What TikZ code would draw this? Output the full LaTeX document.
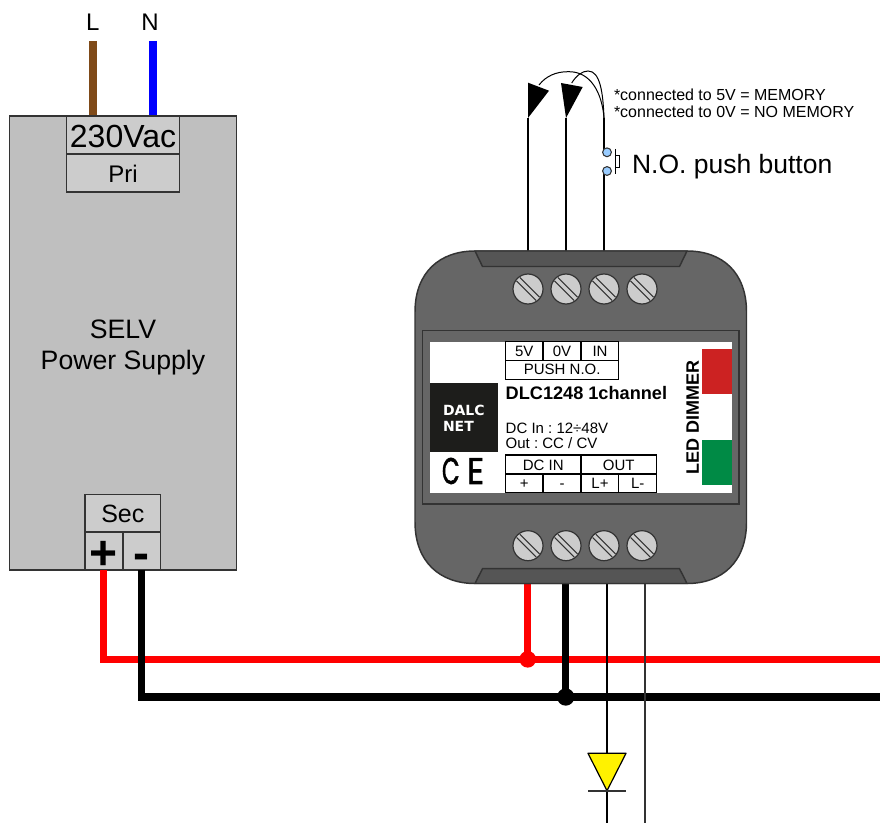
\documentclass[tikz,border=0pt]{standalone}
\usepackage{fontspec}
\setmainfont{Liberation Sans}
\newfontfamily\logofont{DejaVu Sans}
\newfontfamily\cefont[FakeBold=1.6]{Poppins}
\newcommand{\fs}[1]{\fontsize{\fpeval{#1*0.75}}{\fpeval{#1*0.9}}\selectfont}
\definecolor{strokeg}{HTML}{333333}
\definecolor{psug}{HTML}{BFBFBF}
\definecolor{termg}{HTML}{CCCCCC}
\definecolor{bodyg}{HTML}{666666}
\definecolor{tabg}{HTML}{555555}
\definecolor{brownw}{HTML}{7F4A18}
\definecolor{ledred}{HTML}{CC2222}
\definecolor{ledgreen}{HTML}{008A45}
\definecolor{logob}{HTML}{1D1D1B}
\definecolor{btnblue}{HTML}{99CCFF}
\tikzset{
  txt/.style={inner sep=0pt,outer sep=0pt,anchor=base,text=black},
  txtl/.style={inner sep=0pt,outer sep=0pt,anchor=base west,text=black},
  box/.style={draw=strokeg,line width=1.1pt},
  thinw/.style={draw=black,line width=1.4pt},
  thickw/.style={line width=5.4pt},
  cellb/.style={draw=black,line width=.9pt,fill=white},
  screwc/.style={circle,draw=strokeg,fill=termg,line width=.9pt,minimum size=22.5pt,inner sep=0pt},
}
\newcommand{\screw}[3]{%
  \node[screwc] (#1) at (#2,#3) {};
  \draw[strokeg,line width=.8pt] (#2-11.5,#3-8.2) -- (#2+8.2,#3+11.5);
  \draw[strokeg,line width=.8pt] (#2-8.2,#3-11.5) -- (#2+11.5,#3+8.2);
}
\frenchspacing
\begin{document}
\begin{tikzpicture}[x=.75pt,y=-.75pt]
\useasboundingbox (0,0) rectangle (880,823);
% PSU
\fill[white] (0,0) rectangle (880,823);
\coordinate (Lend) at (93,41);
\coordinate (Nend) at (153,41);
\coordinate (Lpri) at (93,116);
\coordinate (Npri) at (153,116);
\draw[brownw,line width=5.9pt] (Lend) -- (Lpri);
\draw[blue,line width=5.9pt] (Nend) -- (Npri);
\node[box,fill=psug,inner sep=0pt,minimum width=170.25pt,minimum height=340.5pt] (psu) at (123,343) {};
\node[box,fill=termg,inner sep=0pt,minimum width=85pt,minimum height=28.5pt] (vac) at (123,135) {};
\node[box,fill=termg,inner sep=0pt,minimum width=85pt,minimum height=28.5pt] (pri) at (123,173) {};
\node[box,fill=termg,inner sep=0pt,minimum width=56.75pt,minimum height=28.5pt] (sec) at (122.85,513.3) {};
\node[box,fill=termg,inner sep=0pt,minimum width=28.4pt,minimum height=28.5pt] (plus) at (103.85,551.2) {};
\node[box,fill=termg,inner sep=0pt,minimum width=28.4pt,minimum height=28.5pt] (minus) at (141.8,551.2) {};
\node[txt] (tL) at (92.7,31) {\fs{24}L};
\node[txt] (tN) at (150,31) {\fs{24}N};
\node[txt] (t230) at (123,147.3) {\fs{32}230Vac};
\node[txt] (tPri) at (123,182.7) {\fs{24}Pri};
\node[txt] (tSelv) at (123,338) {\fs{26.67}SELV};
\node[txt] (tPower) at (123,369) {\fs{26.67}Power Supply};
\node[txt] (tSec) at (122.85,522.5) {\fs{25}Sec};
\node[txt] (tPlus) at (103.85,569) {\fs{48}\bfseries +};
\node[txt] (tMinus) at (141.8,569) {\fs{48}\bfseries -};
% Top wires
\coordinate (w1t) at (528,118);
\coordinate (w2t) at (566,118);
\coordinate (w3t) at (604,118);
\coordinate (w1b) at (528,251);
\coordinate (w2b) at (566,251);
\coordinate (w3b) at (604,251);
\coordinate (b1) at (607,152.3);
\coordinate (b2) at (607,171);
\draw[thinw] (w1t) -- (w1b);
\draw[thinw] (w2t) -- (w2b);
\draw[thinw] (w3t) -- (604,152.3);
\draw[thinw] (604,171) -- (w3b);
\draw[black,line width=.75pt] (w3t) .. controls (602,92) and (590,71) .. (568,71.7) .. controls (556,71.7) and (546,76) .. (539,85);
\draw[black,line width=.75pt] (w3t) .. controls (603,92) and (600,71) .. (588,71) .. controls (582,71) and (576,76) .. (571.7,83);
\fill[black] (w1t) -- (528,82.7) -- (549,90.7) -- cycle;
\fill[black] (w2t) -- (561,83) -- (582.7,87) -- cycle;
\node[circle,draw=strokeg,fill=btnblue,line width=.8pt,minimum size=6.6pt,inner sep=0pt] (c1) at (b1) {};
\node[circle,draw=strokeg,fill=btnblue,line width=.8pt,minimum size=6.6pt,inner sep=0pt] (c2) at (b2) {};
\draw[black,line width=.75pt] (615,149) -- (615,174);
\draw[black,line width=.75pt,fill=white] (615,156) rectangle (619,167.5);
\node[txtl] (note1) at (614,100.5) {\fs{16}*connected to 5V = MEMORY};
\node[txtl] (note2) at (614,117.5) {\fs{16}*connected to 0V = NO MEMORY};
\node[txtl] (tbtn) at (632,174) {\fs{26.5}N.O. push button};
% Bottom wires (under the body)
\coordinate (r0) at (103.7,570);
\coordinate (r1) at (103.7,659.3);
\coordinate (rE) at (880,659.3);
\coordinate (k0) at (141.7,570);
\coordinate (k1) at (141.7,697);
\coordinate (kE) at (880,697);
\coordinate (rd) at (527.7,659.3);
\coordinate (kd) at (565.7,697);
\coordinate (rt) at (527.7,583);
\coordinate (kt) at (565.7,583);
\coordinate (l1) at (607,583);
\coordinate (l1e) at (607,823);
\coordinate (l2) at (645,583);
\coordinate (l2e) at (645,823);
\draw[red,thickw,miter limit=10] (r0) -- (r1) -- (rE);
\draw[red,thickw] (rt) -- (rd);
\draw[black,thickw] (k0) -- (k1) -- (kE);
\draw[black,thickw] (kt) -- (kd);
\node[circle,fill=red,minimum size=12.5pt,inner sep=0pt] (dotr) at (rd) {};
\node[circle,fill=black,minimum size=13pt,inner sep=0pt] (dotk) at (kd) {};
\draw[thinw] (l1) -- (l1e);
\draw[draw=strokeg,line width=1.4pt] (l2) -- (l2e);
% LED
\coordinate (dA) at (588,753.3);
\coordinate (dB) at (626,753.3);
\coordinate (dC) at (607,790.7);
\draw[black,line width=.9pt,fill=yellow,line join=round] (dA) -- (dB) -- (dC) -- cycle;
\draw[strokeg,line width=.8pt] (588,791) -- (626,791);
% Dimmer body
\draw[box,fill=bodyg] (475,251) -- (687,251) .. controls (722,251) and (746.5,272) .. (746.5,312) -- (746.5,522)
  .. controls (746.5,562) and (722,583.5) .. (687,583.5) -- (475,583.5)
  .. controls (440,583.5) and (415,562) .. (415,522) -- (415,312) .. controls (415,272) and (440,251) .. (475,251) -- cycle;
\draw[box,fill=tabg] (475,251) -- (687,251) -- (679.5,266.5) -- (482.5,266.5) -- cycle;
\draw[box,fill=tabg] (475,583.5) -- (687,583.5) -- (679.5,568.7) -- (482.5,568.7) -- cycle;
\draw[strokeg,line width=.9pt,fill=bodyg] (422.7,330.7) rectangle (739,504);
\fill[white] (430,342) rectangle (732,493);
\screw{s1}{528}{289}
\screw{s2}{566}{289}
\screw{s3}{604}{289}
\screw{s4}{642}{289}
\screw{s5}{528}{545.7}
\screw{s6}{566}{545.7}
\screw{s7}{604}{545.7}
\screw{s8}{642}{545.7}
% Top table
\draw[cellb] (505.7,341.7) rectangle (543,360.7);
\draw[cellb] (543,341.7) rectangle (581,360.7);
\draw[cellb] (581,341.7) rectangle (618.7,360.7);
\draw[cellb] (505.7,360.7) rectangle (618.7,379.3);
\node[txt] (t5v) at (524.3,356) {\fs{15}5V};
\node[txt] (t0v) at (562,356) {\fs{15}0V};
\node[txt] (tin) at (600,356) {\fs{15}IN};
\node[txt] (tpush) at (562.2,374.5) {\fs{15}PUSH N.O.};
% Text
\node[txtl] (tdlc) at (505.7,399.3) {\fs{18.15}\bfseries DLC1248 1channel};
\node[txtl] (tdcin) at (505.7,433) {\fs{15}DC In : 12÷48V};
\node[txtl] (tout) at (505.7,448) {\fs{15}Out : CC / CV};
% Bottom table
\draw[cellb] (505.7,455) rectangle (581,474);
\draw[cellb] (581,455) rectangle (656.7,474);
\draw[cellb] (505.7,474) rectangle (543,492.7);
\draw[cellb] (543,474) rectangle (581,492.7);
\draw[cellb] (581,474) rectangle (618.7,492.7);
\draw[cellb] (618.7,474) rectangle (656.7,492.7);
\node[txt] (tdc) at (543.3,470) {\fs{15}DC IN};
\node[txt] (tou) at (618.8,470) {\fs{15}OUT};
\node[txt] (tp) at (524.3,488) {\fs{15}+};
\node[txt] (tm) at (562,488) {\fs{15}-};
\node[txt] (tlp) at (600,488) {\fs{15}L+};
\node[txt] (tlm) at (637.7,488) {\fs{15}L-};
% Logo
\fill[logob] (429.5,383.3) rectangle (498,451.7);
\node[txtl,text=white] (tdalc) at (443,415) {\logofont\fs{14}\bfseries DALC};
\node[txtl,text=white] (tnet) at (443,431.5) {\logofont\fs{14}\bfseries NET};
\node[inner sep=0pt,anchor=center] (tce) at (463,471) {\cefont\fs{37}\scalebox{.62}[1]{C}\kern5.5pt\scalebox{.9}[1]{E}};
% LEDs
\fill[ledred] (702,349.3) rectangle (732,394.3);
\fill[ledgreen] (702,440) rectangle (732,485);
\node[inner sep=0pt,rotate=90,anchor=center] (tled) at (692.7,417.3) {\fs{18}\bfseries LED DIMMER};
\end{tikzpicture}
\end{document}
